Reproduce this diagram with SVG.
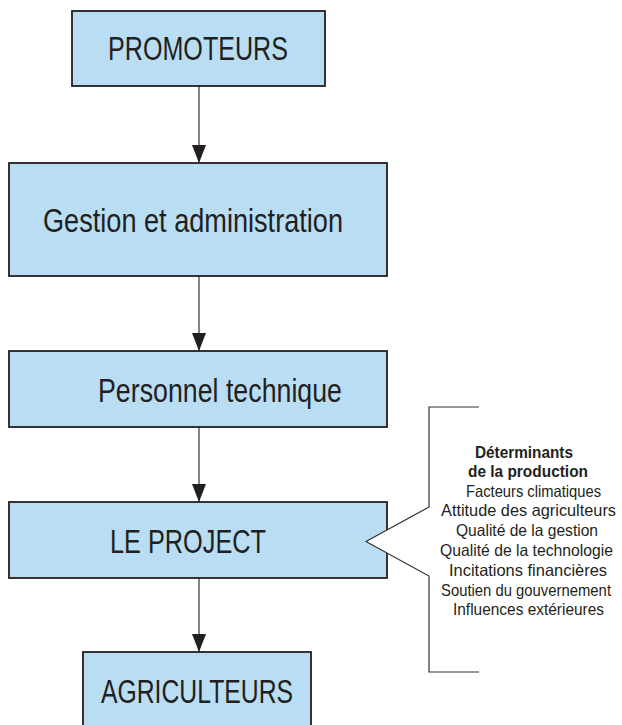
<svg xmlns="http://www.w3.org/2000/svg" width="622" height="725" viewBox="0 0 622 725">
<defs>
<style>
.box{fill:#b9def4;stroke:#231f20;stroke-width:1.8}
.lbl{font-family:"Liberation Sans Narrow","Liberation Sans",Arial,sans-serif;font-size:33px;fill:#231f20}
.conn{stroke:#333;stroke-width:1.2;fill:none}
.callout{stroke:#333;stroke-width:1.2;fill:#fff}
.note{font-family:"Liberation Sans Narrow","Liberation Sans",Arial,sans-serif;font-size:16.5px;fill:#231f20}
.bold{font-weight:bold}
</style>
<marker id="ah" viewBox="0 0 18 14" refX="18" refY="7" markerWidth="18" markerHeight="14" markerUnits="userSpaceOnUse" orient="auto">
<path d="M0,0 L18,7 L0,14 Z" fill="#231f20"/>
</marker>
</defs>
<g id="connectors">
<line class="conn" x1="199" y1="86" x2="199" y2="163" marker-end="url(#ah)"/>
<line class="conn" x1="199" y1="276" x2="199" y2="351" marker-end="url(#ah)"/>
<line class="conn" x1="199" y1="427" x2="199" y2="502" marker-end="url(#ah)"/>
<line class="conn" x1="199" y1="578" x2="199" y2="652" marker-end="url(#ah)"/>
</g>
<g id="promoteurs">
<rect class="box" x="72" y="11" width="253" height="75"/>
<text class="lbl" x="108" y="60" textLength="180" lengthAdjust="spacingAndGlyphs">PROMOTEURS</text>
</g>
<g id="gestion">
<rect class="box" x="9" y="163" width="378" height="113"/>
<text class="lbl" x="43" y="232" textLength="300" lengthAdjust="spacingAndGlyphs">Gestion et administration</text>
</g>
<g id="personnel">
<rect class="box" x="9" y="351" width="378" height="76"/>
<text class="lbl" x="98" y="402" textLength="244" lengthAdjust="spacingAndGlyphs">Personnel technique</text>
</g>
<g id="projet">
<rect class="box" x="9" y="502" width="378" height="76"/>
<text class="lbl" x="110" y="553" textLength="156" lengthAdjust="spacingAndGlyphs">LE PROJECT</text>
</g>
<g id="agriculteurs">
<rect class="box" x="83" y="652" width="228" height="90"/>
<text class="lbl" x="101" y="703" textLength="192" lengthAdjust="spacingAndGlyphs">AGRICULTEURS</text>
</g>
<g id="determinants">
<path class="callout" d="M479,407 L429,407 L429,507 L366,541.5 L429,576 L429,672 L479,672"/>
<text class="note bold" x="475" y="458" textLength="98" lengthAdjust="spacingAndGlyphs">Déterminants</text>
<text class="note bold" x="468" y="477" textLength="120" lengthAdjust="spacingAndGlyphs">de la production</text>
<text class="note" x="466" y="497" textLength="135" lengthAdjust="spacingAndGlyphs">Facteurs climatiques</text>
<text class="note" x="441" y="516" textLength="175" lengthAdjust="spacingAndGlyphs">Attitude des agriculteurs</text>
<text class="note" x="456" y="536" textLength="142" lengthAdjust="spacingAndGlyphs">Qualité de la gestion</text>
<text class="note" x="440" y="556" textLength="173" lengthAdjust="spacingAndGlyphs">Qualité de la technologie</text>
<text class="note" x="449" y="576" textLength="158" lengthAdjust="spacingAndGlyphs">Incitations financières</text>
<text class="note" x="441" y="596" font-size="14.5" textLength="170" lengthAdjust="spacingAndGlyphs">Soutien du gouvernement</text>
<text class="note" x="453" y="615" textLength="151" lengthAdjust="spacingAndGlyphs">Influences extérieures</text>
</g>
</svg>
